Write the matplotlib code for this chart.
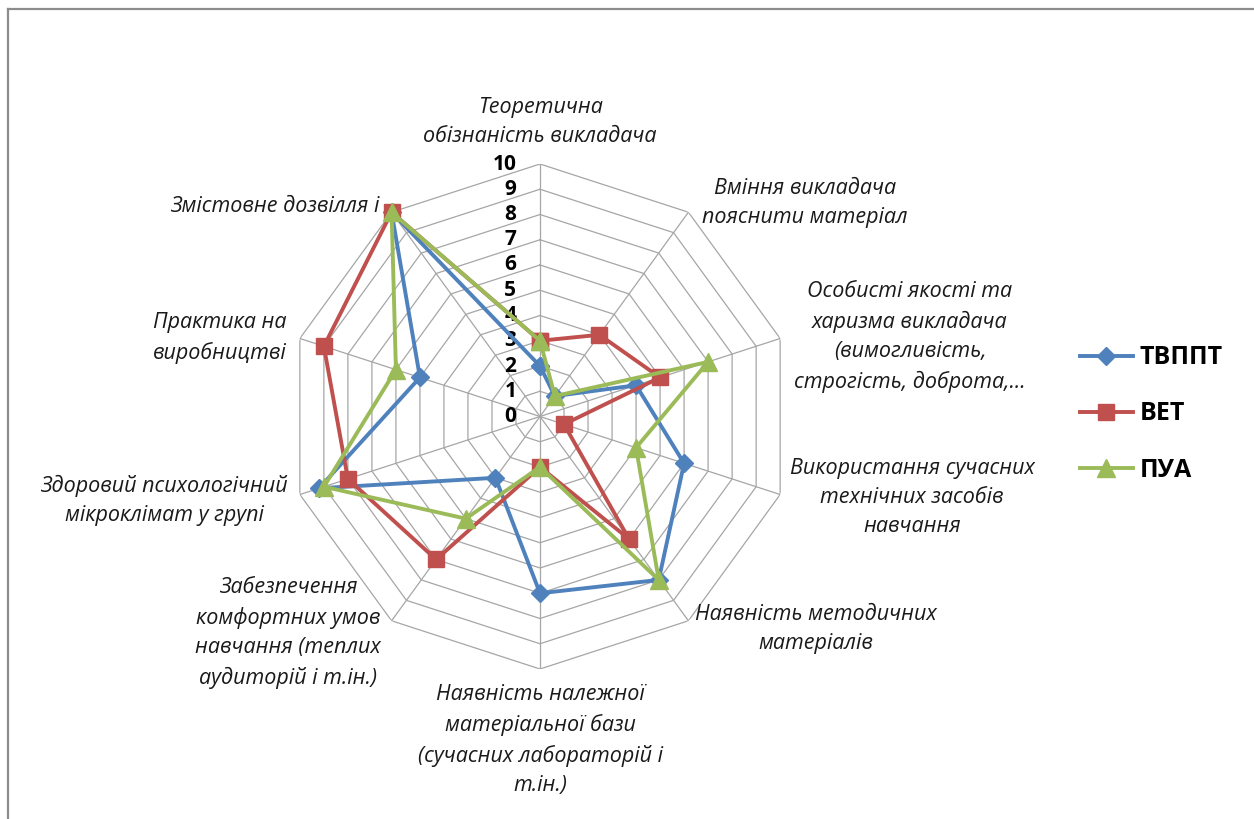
import numpy as np
import matplotlib
matplotlib.use("Agg")
import matplotlib.pyplot as plt
from matplotlib.lines import Line2D

# ---------------- data ----------------
categories = [
    "Теоретична\nобізнаність викладача",
    "Вміння викладача\nпояснити матеріал",
    "Особисті якості та\nхаризма викладача\n(вимогливість,\nстрогість, доброта,...",
    "Використання сучасних\nтехнічних засобів\nнавчання",
    "Наявність методичних\nматеріалів",
    "Наявність належної\nматеріальної бази\n(сучасних лабораторій і\nт.ін.)",
    "Забезпечення\nкомфортних умов\nнавчання (теплих\nаудиторій і т.ін.)",
    "Здоровий психологічний\nмікроклімат у групі",
    "Практика на\nвиробництві",
    "Змістовне дозвілля і",
]
series_names = ["ТВППТ", "ВЕТ", "ПУА"]
tvppt = [2, 1, 4, 6, 8, 7, 3, 9.2, 5, 10]
vet = [3, 4, 5, 1, 6, 2, 7, 8, 9, 10]
pua = [3, 1, 7, 4, 8, 2, 5, 9, 6, 10]
radial_ticks = list(range(0, 11))

# ---------------- layout / style ----------------
W, H = 1254, 819
DPI = 100
cx, cy, R = 540, 416.5, 252.5          # radar centre / radius in pixels
colors = ["#4F81BD", "#C0504D", "#9BBB59"]
markers = ["D", "s", "^"]
msizes = [9, 11.5, 13]
grid_color = "#a6a6a6"

# label centres in pixels (x, y)
label_pos = [(540, 122), (805, 203), (910, 337), (912, 498), (816, 629),
             (540, 740), (288, 633), (164, 500), (220, 338), (275, 207)]

fig = plt.figure(figsize=(W / DPI, H / DPI), dpi=DPI)
fig.patch.set_facecolor("white")

# outer frame (top and left edges visible)
fig.add_artist(Line2D([8 / W, 8 / W], [0, 1 - 9 / H], color="#8c8c8c", lw=1.6,
                      transform=fig.transFigure))
fig.add_artist(Line2D([8 / W, 1], [1 - 9 / H, 1 - 9 / H], color="#8c8c8c", lw=1.6,
                      transform=fig.transFigure))

ax = fig.add_axes([(cx - R) / W, (H - cy - R) / H, 2 * R / W, 2 * R / H],
                  projection="polar")
ax.set_theta_zero_location("N")
ax.set_theta_direction(-1)
ax.set_ylim(0, 10)
ax.grid(False)
ax.set_xticks([])
ax.set_yticks([])
ax.spines["polar"].set_visible(False)
ax.patch.set_alpha(0)

n = len(categories)
theta = np.linspace(0, 2 * np.pi, n, endpoint=False)
theta_c = np.append(theta, theta[0])

# polygon grid
for lvl in radial_ticks[1:]:
    ax.plot(theta_c, [lvl] * (n + 1), color=grid_color, lw=0.9, zorder=1)
for t in theta:
    ax.plot([t, t], [0, radial_ticks[-1]], color=grid_color, lw=0.9, zorder=1)

# radial tick labels
for lvl in radial_ticks:
    ax.annotate(str(lvl), xy=(0, lvl), xytext=(-17, 0), textcoords="offset points",
                ha="right", va="center", fontsize=15, fontweight="bold",
                family=["Open Sans", "DejaVu Sans"], color="black", zorder=5)

# series
for vals, name, c, m, ms in zip([tvppt, vet, pua], series_names, colors, markers, msizes):
    v = list(vals) + [vals[0]]
    ax.plot(theta_c, v, color=c, lw=2.8, marker=m, markersize=ms,
            markerfacecolor=c, markeredgecolor=c, label=name, zorder=6,
            clip_on=False)

# category labels
for txt, (px, py) in zip(categories, label_pos):
    fig.text(px / W, 1 - py / H, txt, ha="center", va="center",
             multialignment="center", fontsize=15.5, style="italic",
             family=["Open Sans", "DejaVu Sans"], color="#1a1a1a",
             linespacing=1.5, zorder=2)

# legend
handles = [Line2D([], [], color=c, lw=2.8, marker=m, markersize=ms,
                  markerfacecolor=c, markeredgecolor=c)
           for c, m, ms in zip(colors, markers, msizes)]
leg = fig.legend(handles, series_names, loc="center left",
                 bbox_to_anchor=(1080 / W, 1 - 414 / H), frameon=False,
                 prop={"family": ["Open Sans", "DejaVu Sans"], "weight": "bold",
                       "size": 18},
                 handlelength=2.1, handletextpad=0.3, labelspacing=1.25,
                 borderpad=0, borderaxespad=0)

fig.savefig("out.png", dpi=DPI, facecolor="white")
